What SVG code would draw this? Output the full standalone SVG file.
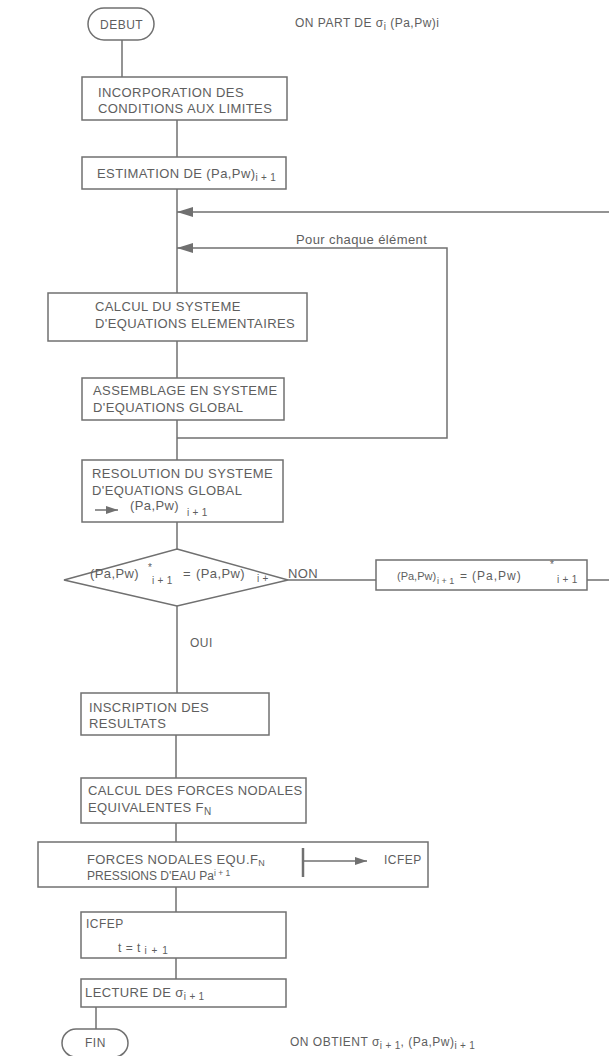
<svg xmlns="http://www.w3.org/2000/svg" width="609" height="1056" viewBox="0 0 609 1056">
<style>
text{font-family:"Liberation Sans",Arial,sans-serif;font-size:13px;fill:#5e5e5e;letter-spacing:0.4px}
.s{font-size:12px;letter-spacing:0.5px}
.sub{font-size:10px;letter-spacing:0.3px}
.box{fill:#fff;stroke:#707070;stroke-width:1.5}
.ln{fill:none;stroke:#707070;stroke-width:1.5}
</style>
<defs>
<marker id="ah" viewBox="0 0 16 10" refX="16" refY="5" markerWidth="16" markerHeight="10" markerUnits="userSpaceOnUse" orient="auto"><path d="M0,0 L16,5 L0,10 z" fill="#707070"/></marker>
<marker id="ahs" viewBox="0 0 12 8" refX="12" refY="4" markerWidth="12" markerHeight="8" markerUnits="userSpaceOnUse" orient="auto"><path d="M0,0 L12,4 L0,8 z" fill="#707070"/></marker>
</defs>
<rect width="609" height="1056" fill="#fff"/>
<g id="connectors">
<path class="ln" d="M122 40 V77"/>
<path class="ln" d="M177 120 V157"/>
<path class="ln" d="M177 189 V293"/>
<path class="ln" d="M177 341 V378"/>
<path class="ln" d="M177 420 V460"/>
<path class="ln" d="M177 438 H447 V248 H177" marker-end="url(#ah)"/>
<text x="296" y="244">Pour chaque élément</text>
<path class="ln" d="M177 522 V549"/>
<path class="ln" d="M288 580 H376"/>
<text x="288" y="578">NON</text>
<path class="ln" d="M587 580 H614 V212 H177" marker-end="url(#ah)"/>
<path class="ln" d="M177 606 V693"/>
<text x="190" y="647" class="s">OUI</text>
<path class="ln" d="M176 735 V778"/>
<path class="ln" d="M176 823 V842"/>
<path class="ln" d="M176 887 V912"/>
<path class="ln" d="M176 958 V979"/>
<path class="ln" d="M96 1007 V1029"/>
</g>
<g id="debut">
<rect class="box" x="88" y="8" width="66" height="32" rx="16"/>
<text x="100" y="29" class="s">DEBUT</text>
</g>
<g id="note-start">
<text x="295" y="27" class="s">ON PART DE σ<tspan class="sub" dy="3">i</tspan><tspan dy="-3"> (Pa,Pw)i</tspan></text>
</g>
<g id="incorporation">
<rect class="box" x="82" y="77" width="205" height="43"/>
<text x="98" y="97">INCORPORATION DES</text>
<text x="98" y="113">CONDITIONS AUX LIMITES</text>
</g>
<g id="estimation">
<rect class="box" x="82" y="157" width="204" height="32"/>
<text x="97" y="178">ESTIMATION DE (Pa,Pw)<tspan class="sub" dy="3">i + 1</tspan></text>
</g>
<g id="calcul-systeme">
<rect class="box" x="48" y="293" width="259" height="48"/>
<text x="95" y="311">CALCUL DU SYSTEME</text>
<text x="95" y="328">D'EQUATIONS ELEMENTAIRES</text>
</g>
<g id="assemblage">
<rect class="box" x="82" y="378" width="202" height="42"/>
<text x="93" y="395">ASSEMBLAGE EN SYSTEME</text>
<text x="93" y="412">D'EQUATIONS GLOBAL</text>
</g>
<g id="resolution">
<rect class="box" x="82" y="460" width="201" height="62"/>
<text x="92" y="478">RESOLUTION DU SYSTEME</text>
<text x="92" y="495">D'EQUATIONS GLOBAL</text>
<path class="ln" d="M95 510 H118" marker-end="url(#ahs)" stroke-width="2"/>
<text x="130" y="510">(Pa,Pw)</text>
<text x="187" y="516" class="sub">i + 1</text>
</g>
<g id="test">
<polygon class="box" points="177,549 288,580 177,606 64,580"/>
<text x="90" y="578">(Pa,Pw)</text>
<text x="148" y="571" class="sub">*</text>
<text x="152" y="584" class="sub">i + 1</text>
<text x="183" y="578">=</text>
<text x="196" y="578">(Pa,Pw)</text>
<text x="257" y="582" class="sub">i +</text>
</g>
<g id="mise-a-jour">
<rect class="box" x="376" y="560" width="211" height="30"/>
<text x="397" y="580" style="font-size:11px;letter-spacing:0">(Pa,Pw)</text>
<text x="437" y="584" style="font-size:9px;letter-spacing:0">i + 1</text>
<text x="460" y="580" class="s">=</text>
<text x="472" y="580" style="font-size:12px;letter-spacing:1px">(Pa,Pw)</text>
<text x="550" y="568" class="sub">*</text>
<text x="557" y="583" class="sub">i + 1</text>
</g>
<g id="inscription">
<rect class="box" x="81" y="693" width="188" height="42"/>
<text x="89" y="712">INSCRIPTION DES</text>
<text x="89" y="728">RESULTATS</text>
</g>
<g id="calcul-forces">
<rect class="box" x="81" y="778" width="225" height="45"/>
<text x="88" y="795">CALCUL DES FORCES NODALES</text>
<text x="88" y="812">EQUIVALENTES F<tspan class="sub" dy="3">N</tspan></text>
</g>
<g id="forces-nodales">
<rect class="box" x="38" y="842" width="390" height="45"/>
<text x="87" y="864">FORCES NODALES  EQU.F<tspan style="font-size:9px" dy="2">N</tspan></text>
<text x="87" y="880" style="font-size:12px;letter-spacing:0">PRESSIONS D'EAU Pa<tspan style="font-size:8.5px" dy="-4">i + 1</tspan></text>
<path d="M303 848 V877" stroke="#707070" stroke-width="2.5"/>
<path class="ln" d="M303 861 H367" marker-end="url(#ahs)"/>
<text x="384" y="864" class="s">ICFEP</text>
</g>
<g id="icfep">
<rect class="box" x="81" y="912" width="205" height="46"/>
<text x="86" y="928" class="s">ICFEP</text>
<text x="118" y="952" class="s">t = t<tspan class="sub" dy="2" style="letter-spacing:1px"> i + 1</tspan></text>
</g>
<g id="lecture">
<rect class="box" x="81" y="979" width="205" height="28"/>
<text x="85" y="997">LECTURE DE σ<tspan class="sub" dy="3">i + 1</tspan></text>
</g>
<g id="fin">
<rect class="box" x="62" y="1029" width="66" height="28" rx="14"/>
<text x="85" y="1047" class="s">FIN</text>
</g>
<g id="note-end">
<text x="290" y="1046" class="s">ON OBTIENT σ<tspan class="sub" dy="3">i + 1</tspan><tspan dy="-3">, (Pa,Pw)</tspan><tspan class="sub" dy="3">i + 1</tspan></text>
</g>
</svg>
